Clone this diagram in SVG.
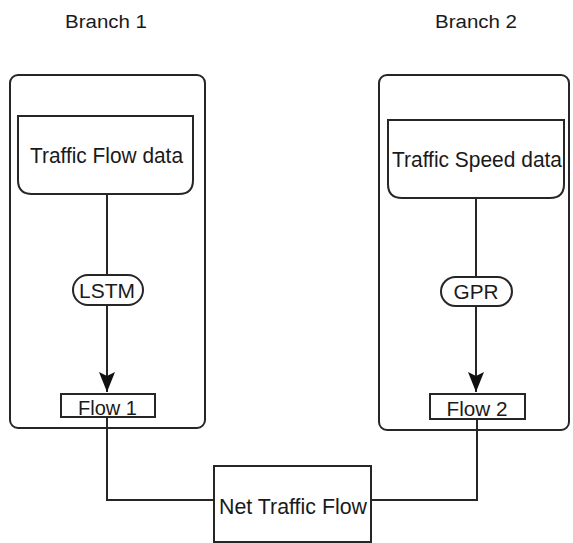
<svg xmlns="http://www.w3.org/2000/svg" width="573" height="543" viewBox="0 0 573 543">
  <style>
    .shape { fill: #fff; stroke: #262626; stroke-width: 2; }
    .line { fill: none; stroke: #262626; stroke-width: 2; }
    text { font-family: "Liberation Sans", Arial, sans-serif; fill: #1a1a1a; text-anchor: middle; }
    .title { font-size: 18px; }
    .lbl { font-size: 22px; }
    .small { font-size: 20px; }
  </style>
  <defs>
    <marker id="arrow" viewBox="0 0 20 16" refX="20" refY="8" markerWidth="20" markerHeight="16" markerUnits="userSpaceOnUse" orient="auto">
      <path d="M0,0 L20,8 L0,16 L4,8 z" fill="#111"/>
    </marker>
  </defs>
  <rect width="573" height="543" fill="#fff"/>

  <g id="branch1">
    <text class="title" x="106" y="28" textLength="82" lengthAdjust="spacingAndGlyphs">Branch 1</text>
    <rect class="shape" x="10" y="75" width="195" height="353" rx="8"/>
  </g>
  <g id="branch2">
    <text class="title" x="476" y="28" textLength="82" lengthAdjust="spacingAndGlyphs">Branch 2</text>
    <rect class="shape" x="379" y="75" width="190" height="355" rx="8"/>
  </g>

  <g id="connectors">
    <line class="line" x1="107" y1="194" x2="107" y2="275"/>
    <line class="line" x1="107" y1="305" x2="107" y2="392" marker-end="url(#arrow)"/>
    <line class="line" x1="476" y1="198" x2="476" y2="277"/>
    <line class="line" x1="476" y1="306" x2="476" y2="392" marker-end="url(#arrow)"/>
    <polyline class="line" points="107,417 107,500 214,500"/>
    <polyline class="line" points="477,419 477,500 370,500"/>
  </g>

  <g id="flow-data">
    <path class="shape" d="M18,116 H193 V180 Q193,194 179,194 H32 Q18,194 18,180 Z"/>
    <text class="lbl" x="106.5" y="163" textLength="153" lengthAdjust="spacingAndGlyphs">Traffic Flow data</text>
  </g>
  <g id="speed-data">
    <path class="shape" d="M388,120 H564 V184 Q564,198 550,198 H402 Q388,198 388,184 Z"/>
    <text class="lbl" x="477" y="167" textLength="170" lengthAdjust="spacingAndGlyphs">Traffic Speed data</text>
  </g>

  <g id="lstm">
    <rect class="shape" x="73" y="275" width="70" height="30" rx="15"/>
    <text class="small" x="107" y="298" textLength="56" lengthAdjust="spacingAndGlyphs">LSTM</text>
  </g>
  <g id="gpr">
    <rect class="shape" x="441" y="277" width="71" height="29" rx="14.5"/>
    <text class="small" x="476" y="299" textLength="45" lengthAdjust="spacingAndGlyphs">GPR</text>
  </g>

  <g id="flow1">
    <rect class="shape" x="61" y="394" width="94" height="23"/>
    <text class="small" x="107.5" y="415" textLength="59" lengthAdjust="spacingAndGlyphs">Flow 1</text>
  </g>
  <g id="flow2">
    <rect class="shape" x="430" y="394" width="95" height="25"/>
    <text class="small" x="477" y="416" textLength="61" lengthAdjust="spacingAndGlyphs">Flow 2</text>
  </g>

  <g id="net-flow">
    <rect class="shape" x="214" y="466" width="157" height="76"/>
    <text class="lbl" x="293" y="514" textLength="148" lengthAdjust="spacingAndGlyphs">Net Traffic Flow</text>
  </g>
</svg>
